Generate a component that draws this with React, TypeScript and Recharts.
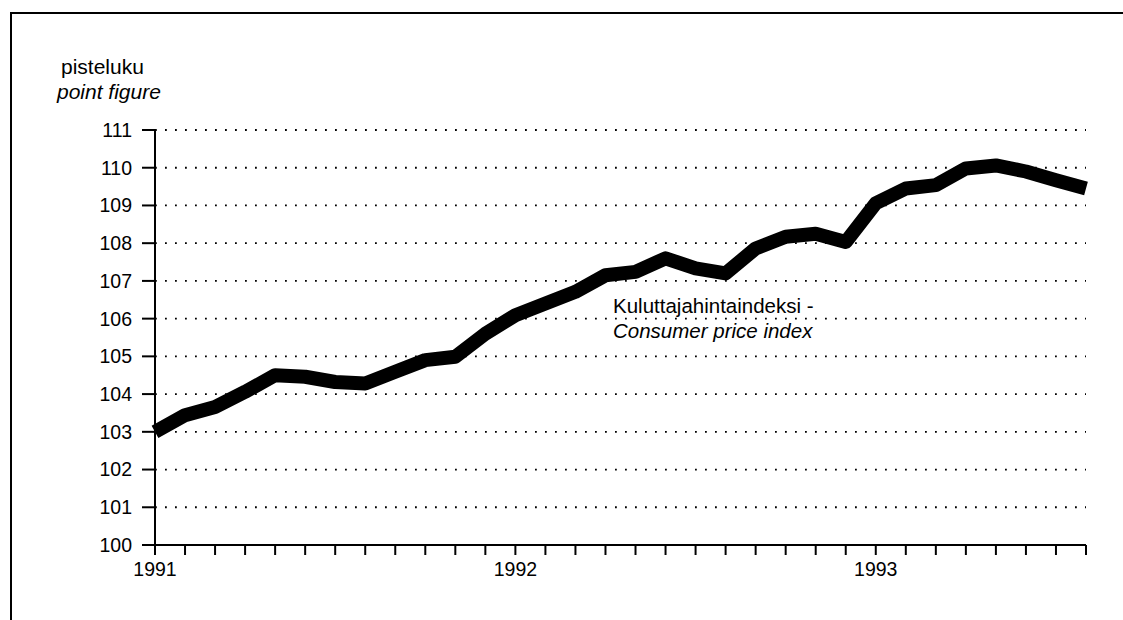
import React from 'react';
import { LineChart, Line, XAxis, YAxis, CartesianGrid } from 'recharts';

const months: string[] = [
  '1991-01','1991-02','1991-03','1991-04','1991-05','1991-06','1991-07','1991-08','1991-09','1991-10','1991-11','1991-12',
  '1992-01','1992-02','1992-03','1992-04','1992-05','1992-06','1992-07','1992-08','1992-09','1992-10','1992-11','1992-12',
  '1993-01','1993-02','1993-03','1993-04','1993-05','1993-06','1993-07','1993-08',
];

const cpi: number[] = [
  103.0, 103.44, 103.66, 104.06, 104.5, 104.46, 104.32, 104.28, 104.59, 104.9, 104.99, 105.6,
  106.09, 106.4, 106.71, 107.15, 107.24, 107.6, 107.33, 107.2, 107.86, 108.17, 108.25, 108.03,
  109.06, 109.45, 109.54, 109.98, 110.06, 109.9, 109.67, 109.45,
];

const yTicks: number[] = [100, 101, 102, 103, 104, 105, 106, 107, 108, 109, 110, 111];
const yearLabels: string[] = ['1991', '1992', '1993'];

const yTitle = ['pisteluku', 'point figure'];
const seriesLabel = ['Kuluttajahintaindeksi -', 'Consumer price index'];

const data = months.map((m, i) => ({ i, month: m, cpi: cpi[i] }));
const xTicks = months.map((_, i) => i);

const FONT = '"Liberation Sans", Arial, Helvetica, sans-serif';

export default function App() {
  return (
    <div style={{ position: 'absolute', left: 0, top: 0, width: 1123, height: 620, background: '#fff', fontFamily: FONT, overflow: 'hidden' }}>
      <div style={{ position: 'absolute', left: 10, top: 12, width: 1140, height: 640, borderLeft: '2px solid #000', borderTop: '2px solid #000' }} />
      <LineChart
        width={1123}
        height={620}
        data={data}
        margin={{ top: 130, right: 37, bottom: 35, left: 95 }}
        style={{ position: 'absolute', left: 0, top: 0 }}
      >
        <CartesianGrid vertical={false} stroke="#000" strokeWidth={1.8} strokeDasharray="1.8 8.2" />
        <XAxis
          dataKey="i"
          type="number"
          domain={[0, 31]}
          ticks={xTicks}
          interval={0}
          height={40}
          tickSize={10}
          tickMargin={7}
          axisLine={{ stroke: '#000', strokeWidth: 2 }}
          tickLine={{ stroke: '#000', strokeWidth: 2 }}
          tick={{ fill: '#000', fontSize: 19.5, fontFamily: FONT }}
          tickFormatter={(v: number) => (v % 12 === 0 ? yearLabels[v / 12] : '')}
        />
        <YAxis
          type="number"
          domain={[100, 111]}
          ticks={yTicks}
          interval={0}
          width={60}
          tickSize={13}
          tickMargin={10}
          axisLine={{ stroke: '#000', strokeWidth: 2 }}
          tickLine={{ stroke: '#000', strokeWidth: 2 }}
          tick={{ fill: '#000', fontSize: 19.5, fontFamily: FONT }}
        />
        <Line
          dataKey="cpi"
          type="linear"
          stroke="#000"
          strokeWidth={14}
          strokeLinejoin="round"
          strokeLinecap="butt"
          dot={false}
          activeDot={false}
          isAnimationActive={false}
        />
      </LineChart>
      <svg width={1123} height={620} style={{ position: 'absolute', left: 0, top: 0, pointerEvents: 'none' }}>
        <text x={61} y={74} fontSize={21} fontFamily={FONT} fill="#000">{yTitle[0]}</text>
        <text x={57} y={99} fontSize={21} fontFamily={FONT} fontStyle="italic" fill="#000">{yTitle[1]}</text>
        <text x={613} y={313} fontSize={20.5} fontFamily={FONT} fill="#000">{seriesLabel[0]}</text>
        <text x={613} y={338} fontSize={20.5} fontFamily={FONT} fontStyle="italic" fill="#000">{seriesLabel[1]}</text>
      </svg>
    </div>
  );
}
